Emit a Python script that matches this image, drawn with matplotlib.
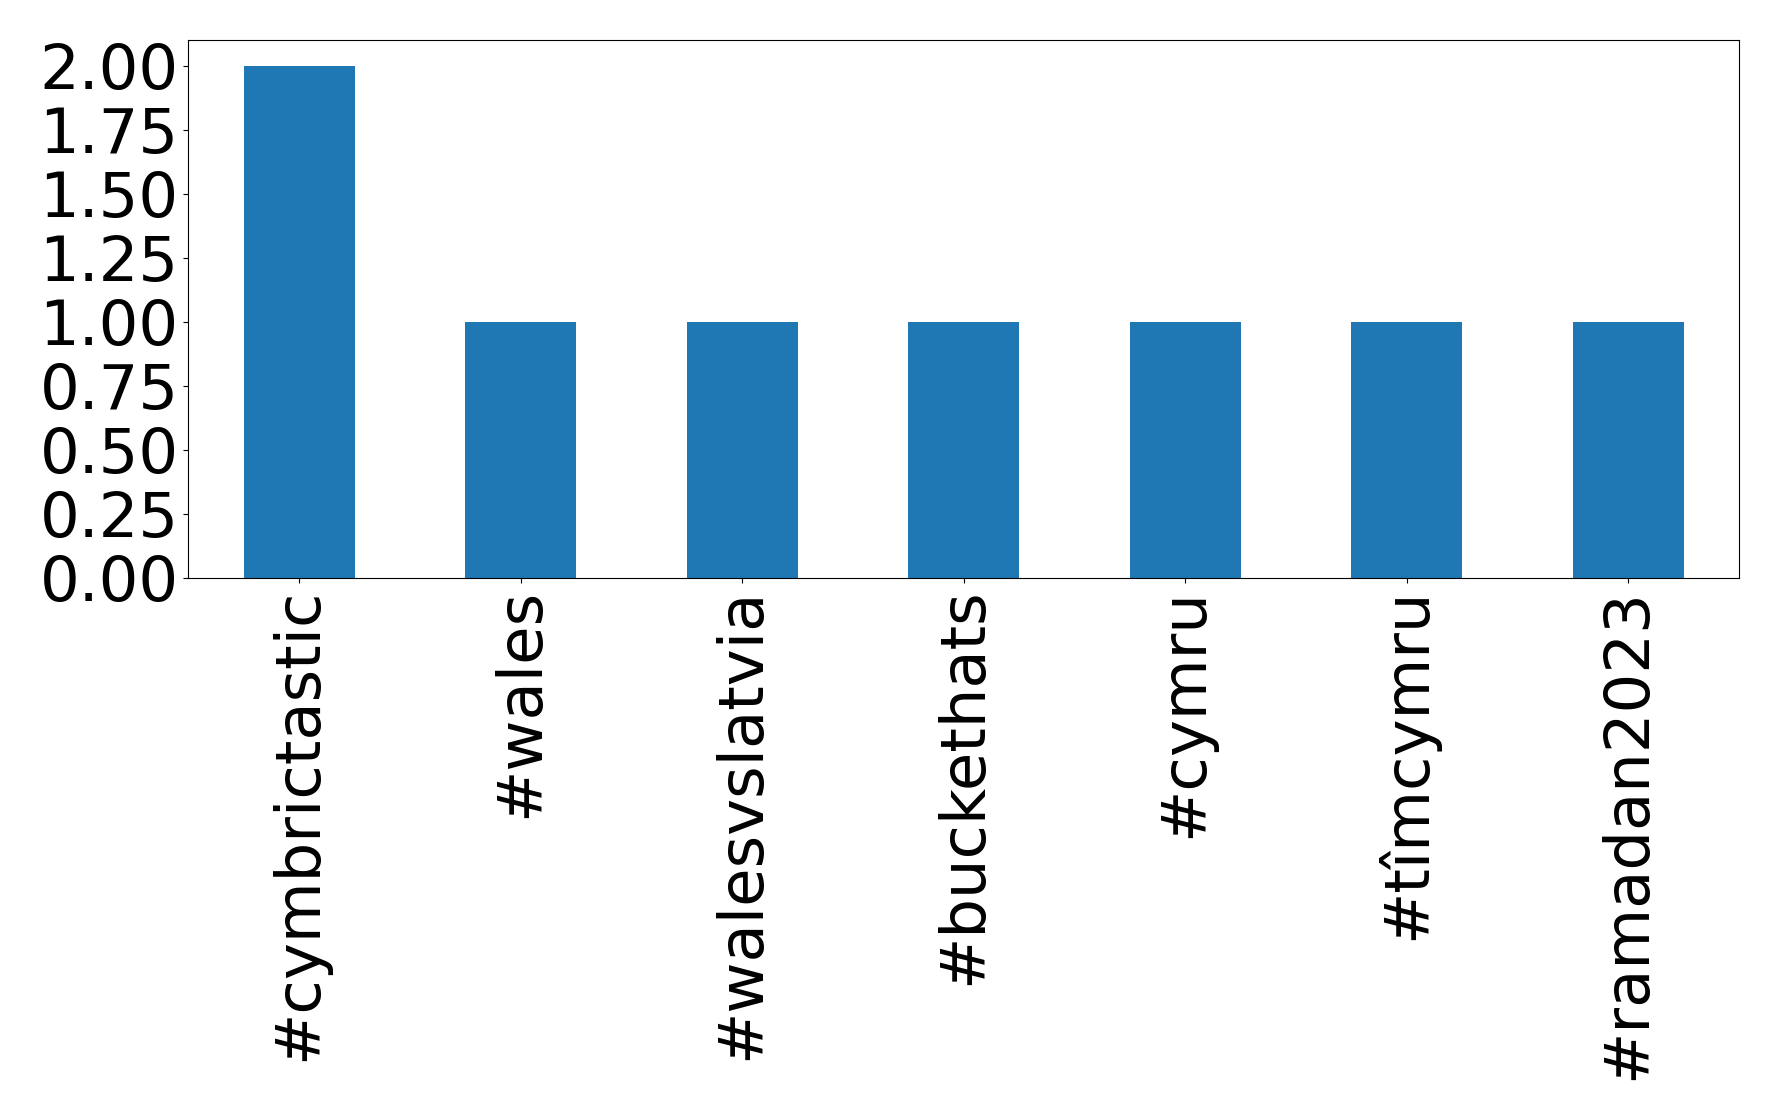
import matplotlib
matplotlib.use('Agg')
import matplotlib.pyplot as plt

hashtags = ['#cymbrictastic', '#wales', '#walesvslatvia', '#buckethats',
            '#cymru', '#tîmcymru', '#ramadan2023']
counts = [2, 1, 1, 1, 1, 1, 1]

fig, ax = plt.subplots(figsize=(17.78, 11.2), dpi=100)
x = range(len(hashtags))
ax.bar(x, counts, width=0.5, color='#1f77b4')
ax.set_xticks(list(x))
ax.set_xticklabels(hashtags, rotation=90)
ax.set_xlim(-0.5, len(hashtags) - 0.5)
ax.set_ylim(0, 2.1)
ax.set_yticks([0, 0.25, 0.5, 0.75, 1.0, 1.25, 1.5, 1.75, 2.0])
ax.set_yticklabels([f'{v:.2f}' for v in ax.get_yticks()])
ax.tick_params(labelsize=45)

fig.subplots_adjust(left=0.106, right=0.978, top=0.964, bottom=0.484)
fig.savefig('out.png', dpi=100)
